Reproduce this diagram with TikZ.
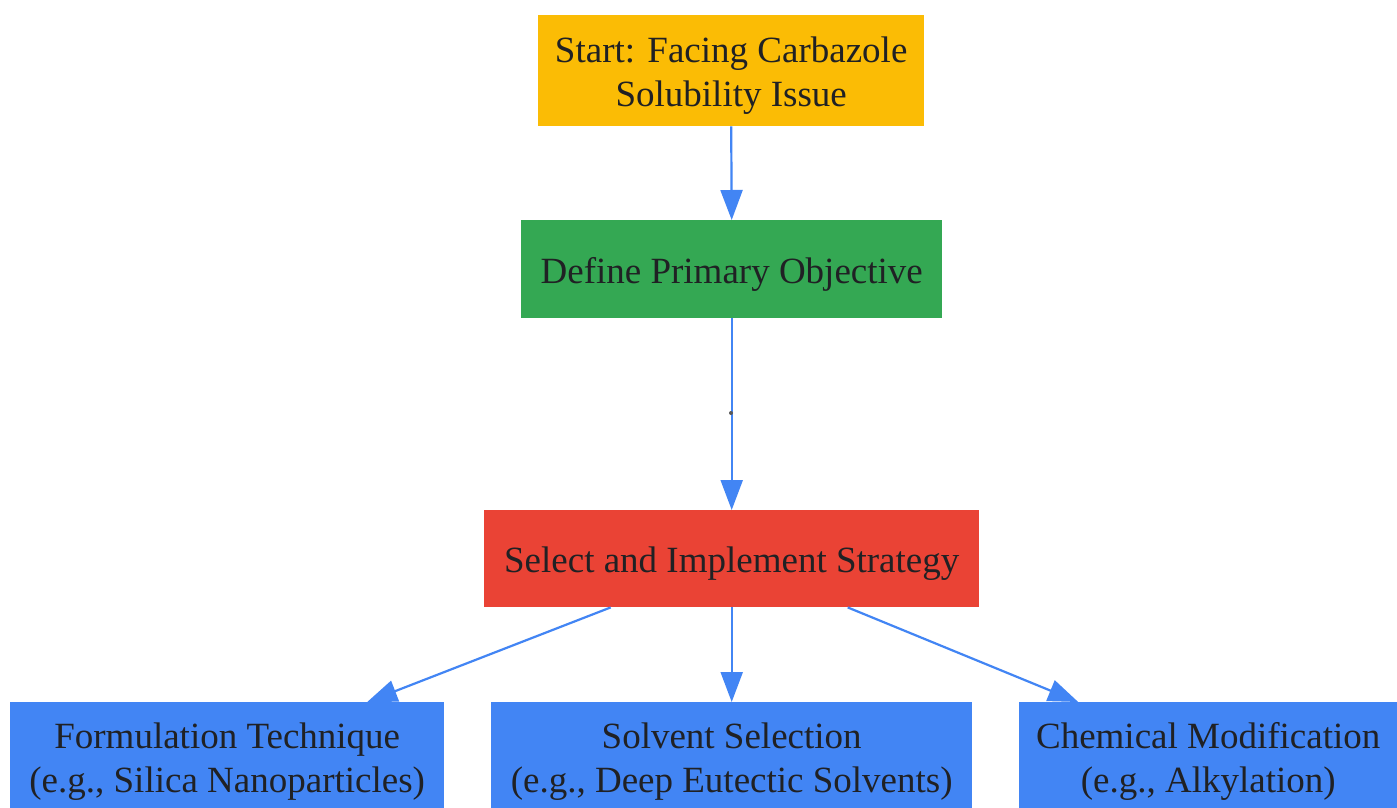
\documentclass[tikz,border=0pt]{standalone}
\usepackage{fontspec}
\setmainfont{Liberation Serif}
\usetikzlibrary{arrows.meta,calc}
\definecolor{cyellow}{HTML}{FBBC05}
\definecolor{cgreen}{HTML}{34A853}
\definecolor{cred}{HTML}{EA4335}
\definecolor{cblue}{HTML}{4285F4}
\definecolor{ctext}{HTML}{202124}
\tikzset{
  box/.style={rectangle, inner sep=0pt, anchor=north west},
  txt/.style={inner sep=0pt, align=center, text=ctext,
    font=\fontsize{37}{44}\selectfont},
  conn/.style={draw=cblue, line width=2.2pt, -{Triangle[length=30pt,width=22pt]}},
}
\begin{document}
\begin{tikzpicture}[x=1pt,y=-1pt]
\useasboundingbox[fill=white] (0,0) rectangle (1397,808);
\node[box, fill=cyellow, minimum width=386pt, minimum height=111pt] (start) at (538,15) {};
\node[txt] (startT) at ($(start.center)+(0,5)$) {Start: Facing Carbazole\\Solubility Issue};
\node[box, fill=cgreen, minimum width=421pt, minimum height=98pt] (obj) at (521,220) {};
\node[txt] (objT) at ($(obj.center)+(0,5)$) {Define Primary Objective};
\node[box, fill=cred, minimum width=495pt, minimum height=97pt] (sel) at (484,510) {};
\node[txt] (selT) at ($(sel.center)+(0,5)$) {Select and Implement Strategy};
\node[box, fill=cblue, minimum width=434pt, minimum height=111pt] (form) at (10,702) {};
\node[txt] (formT) at ($(form.center)+(0,4)$) {Formulation Technique\\(e.g., Silica Nanoparticles)};
\node[box, fill=cblue, minimum width=481pt, minimum height=111pt] (solv) at (491,702) {};
\node[txt] (solvT) at ($(solv.center)+(0,4)$) {Solvent Selection\\(e.g., Deep Eutectic Solvents)};
\node[box, fill=cblue, minimum width=378pt, minimum height=111pt] (chem) at (1019,702) {};
\node[txt] (chemT) at ($(chem.center)+(0,4)$) {Chemical Modification\\(e.g., Alkylation)};
\draw[conn] (start.south) -- (obj.north);
\draw[conn] (obj.south) -- (sel.north);
\fill[gray!70!black] (731,413) circle (2pt);
\draw[conn] ($(sel.south)+(-121,0)$) -- ($(form.north)+(140,0)$);
\draw[conn] (sel.south) -- (solv.north);
\draw[conn] ($(sel.south)+(116,0)$) -- ($(chem.north)+(-130,0)$);
\end{tikzpicture}
\end{document}
